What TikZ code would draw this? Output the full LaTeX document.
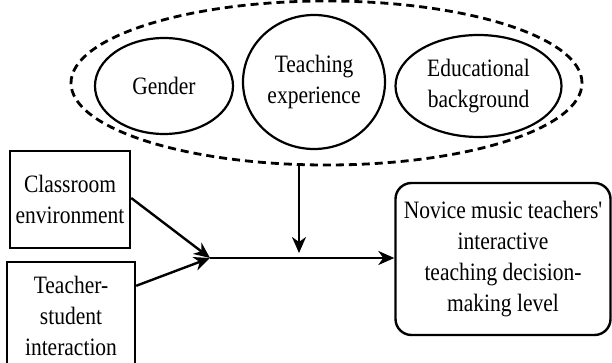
\documentclass[tikz,border=0pt]{standalone}
\usepackage{fontspec}
\setmainfont[FakeStretch=0.86,Ligatures=TeXOff]{Liberation Serif}
\usetikzlibrary{shapes.geometric,arrows.meta,calc}
\begin{document}
\begin{tikzpicture}[x=1pt,y=-1pt,
  txt/.style={font=\fontsize{25}{31}\selectfont, align=center, inner sep=0pt},
  ell/.style={txt, ellipse, draw, line width=2.2pt},
  grpst/.style={ellipse, draw, line width=2.8pt, dash pattern=on 8pt off 5pt, inner sep=0pt},
  boxst/.style={txt, rectangle, draw, line width=2.4pt},
  rbox/.style={txt, rectangle, rounded corners=16pt, draw, line width=2.4pt},
  arr/.style={-{Stealth[length=16pt,width=14pt,inset=5pt]}, line width=2.4pt}]
\useasboundingbox (0,0) rectangle (612,363);
\clip (0,0) rectangle (612,363);
% moderator group
\node[grpst, minimum width=511pt, minimum height=164pt] (grp) at (326.5,83) {};
\node[ell, minimum width=138pt, minimum height=96pt] (gen) at (164,86) {Gender};
\node[ell, minimum width=142pt, minimum height=134pt] (tex) at (314,82) {Teaching\\experience};
\node[ell, minimum width=166pt, minimum height=102pt] (edu) at (478.5,86) {Educational\\background};
% inputs
\node[boxst, minimum width=120pt, minimum height=97pt] (cls) at (70,199.5) {Classroom\\environment};
\node[boxst, minimum width=128pt, minimum height=108pt] (ts) at (71,316) {Teacher-\\student\\interaction};
% outcome
\node[rbox, minimum width=215pt, minimum height=152pt] (nov) at (503,259) {Novice music teachers'\\interactive\\teaching decision-\\making level};
% junction points
\coordinate (j) at (210,258);
\coordinate (m) at (299,258);
\draw[arr] (cls.east |- 0,198) -- (j);
\draw[arr] ($(ts.north east)+(0,25)$) -- (j);
\draw[arr] (j) -- (j -| nov.west);
\draw[arr] (grp.south -| m) -- ($(m)+(0,-5)$);
\end{tikzpicture}
\end{document}
